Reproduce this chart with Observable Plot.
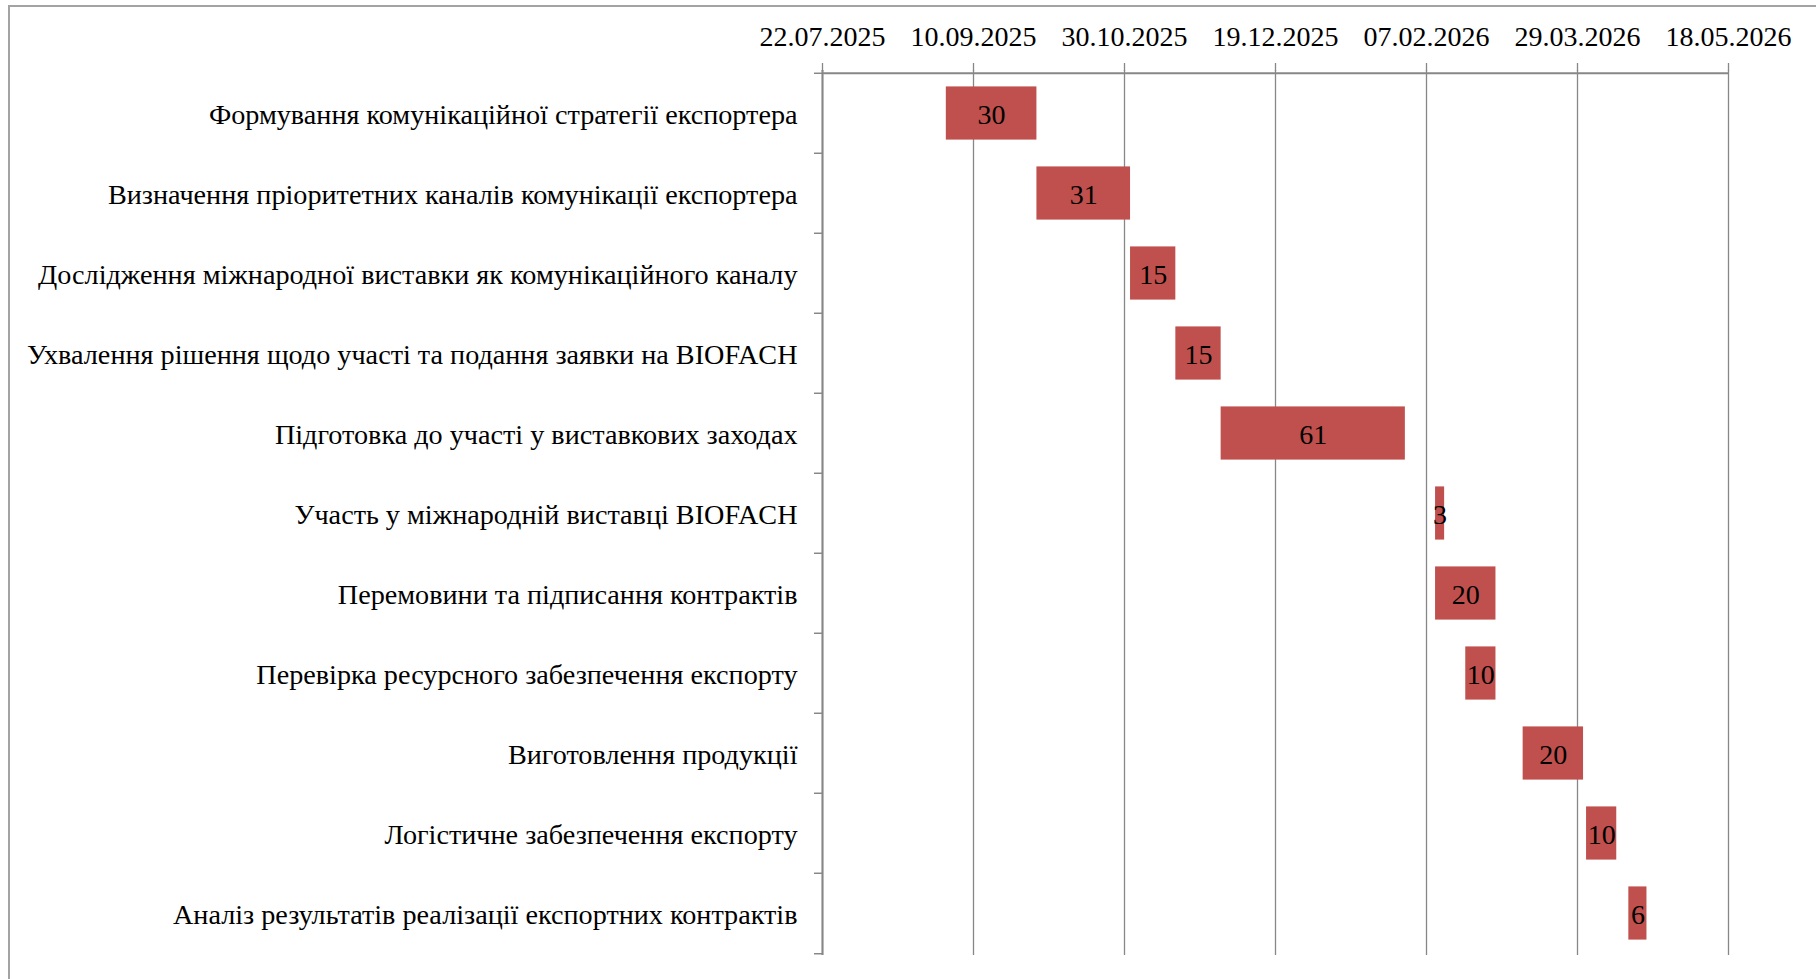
<!DOCTYPE html>
<html>
<head>
<meta charset="utf-8">
<script src="https://cdn.jsdelivr.net/npm/d3@7"></script>
<script src="https://cdn.jsdelivr.net/npm/@observablehq/plot@0.6"></script>
<style>
  html, body { margin: 0; padding: 0; background: #fff; }
  #wrap { position: relative; width: 1816px; height: 979px; overflow: hidden; }
  #border { position: absolute; left: 8px; top: 5px; right: -10px; bottom: -10px;
            border-top: 2px solid #a3a3a3; border-left: 2px solid #a3a3a3; }
  #chart { position: absolute; left: 0; top: 0; line-height: 0; }
  #chart svg { display: block; }
</style>
</head>
<body>
<div id="wrap"><div id="border"></div><div id="chart"></div></div>
<script>
// Project stages (top to bottom)
const tasks = [
  "Формування комунікаційної стратегії експортера",
  "Визначення пріоритетних каналів комунікації експортера",
  "Дослідження міжнародної виставки як комунікаційного каналу",
  "Ухвалення рішення щодо участі та подання заявки на BIOFACH",
  "Підготовка до участі у виставкових заходах",
  "Участь у міжнародній виставці BIOFACH",
  "Перемовини та підписання контрактів",
  "Перевірка ресурсного забезпечення експорту",
  "Виготовлення продукції",
  "Логістичне забезпечення експорту",
  "Аналіз результатів реалізації експортних контрактів"
];

// Start date of each stage
const startDates = [
  "2025-09-01", "2025-10-01", "2025-11-01", "2025-11-16", "2025-12-01",
  "2026-02-10", "2026-02-10", "2026-02-20", "2026-03-11", "2026-04-01", "2026-04-15"
];

// Duration of each stage, days
const durations = [30, 31, 15, 15, 61, 3, 20, 10, 20, 10, 6];

// Time axis ticks
const tickDates = [
  "2025-07-22", "2025-09-10", "2025-10-30", "2025-12-19",
  "2026-02-07", "2026-03-29", "2026-05-18"
];

const DAY = 24 * 3600 * 1000;
const parse = (s) => new Date(s + "T00:00:00Z");
const ticks = tickDates.map(parse);

const rows = tasks.map((task, i) => {
  const start = parse(startDates[i]);
  const end = new Date(start.getTime() + durations[i] * DAY);
  return {task, start, end, mid: new Date((start.getTime() + end.getTime()) / 2), days: durations[i]};
});

const W = 1816, H = 979;
const marginTop = 70, marginBottom = 24, marginLeft = 822, marginRight = 88;
const step = (H - marginTop - marginBottom) / tasks.length;
const gray = "#878787";
const fontSize = 28.2;
const fmt = d3.utcFormat("%d.%m.%Y");

const chart = Plot.plot({
  width: W,
  height: H,
  marginTop, marginBottom, marginLeft, marginRight,
  style: {fontFamily: "'Liberation Serif', 'Times New Roman', serif", fontSize: fontSize + "px", color: "#000", background: "transparent", overflow: "visible"},
  x: {type: "utc", domain: [ticks[0], ticks[ticks.length - 1]], label: null},
  y: {type: "band", domain: tasks, padding: 0, label: null},
  marks: [
    Plot.gridX({ticks, stroke: gray, strokeOpacity: 1, strokeWidth: 1.3}),
    Plot.axisX({anchor: "top", ticks, tickSize: 8, tickPadding: 17, tickFormat: fmt,
                stroke: gray, strokeWidth: 1.3, fill: "#000", fontSize: 28, label: null}),
    // value axis line
    Plot.ruleX([ticks[0]], {stroke: gray, strokeWidth: 2}),
    // top category axis line
    Plot.gridY({ticks: [tasks[0]], dy: -step / 2, stroke: gray, strokeOpacity: 1, strokeWidth: 2}),
    // category labels
    Plot.axisY({tickSize: 0, tickPadding: 25, fill: "#000", fontSize, dy: 1, label: null}),
    // tick marks between categories
    Plot.axisY({tickSize: 8, dy: -step / 2, tickFormat: () => "", stroke: gray, strokeWidth: 1.5, label: null}),
    Plot.axisY({ticks: [tasks[tasks.length - 1]], tickSize: 8, dy: step / 2, tickFormat: () => "", stroke: gray, strokeWidth: 1.5, label: null}),
    Plot.barX(rows, {x1: "start", x2: "end", y: "task", fill: "#C0504D",
                     insetTop: step / 6, insetBottom: step / 6}),
    Plot.text(rows, {x: "mid", y: "task", text: "days", fill: "#000", fontSize: 28, dy: 2})
  ]
});

document.getElementById("chart").appendChild(chart);
</script>
</body>
</html>
